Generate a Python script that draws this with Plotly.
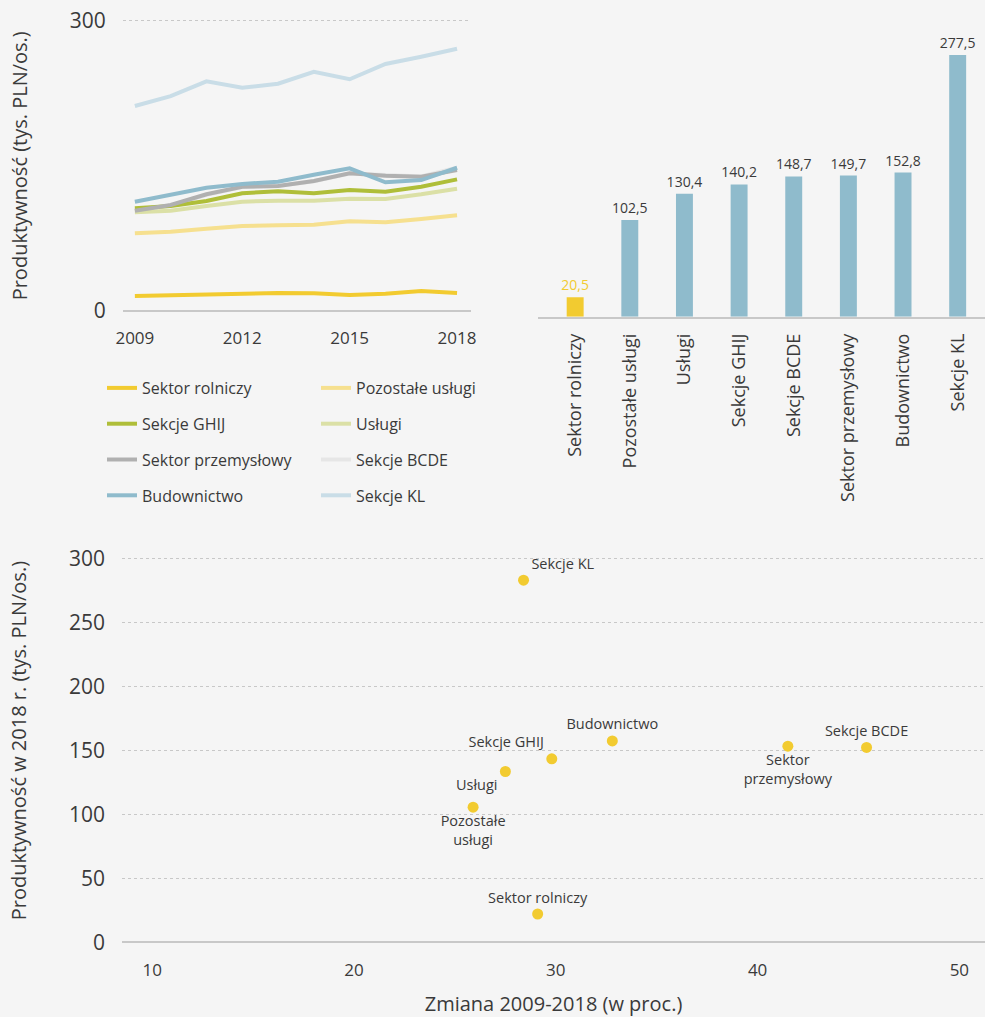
import plotly.graph_objects as go

W, H = 985, 1017
BG = "#f5f5f5"
FONT = "'Open Sans', Lato, sans-serif"
TXT = "#3a3a3a"

# ---- line chart data ----
years = [2009, 2010, 2011, 2012, 2013, 2014, 2015, 2016, 2017, 2018]
sektor_rolniczy = [15.5, 16.2, 17.9, 17.9, 18.6, 18.3, 16.5, 17.9, 20.7, 18.6]
pozostale_uslugi = [80.3, 81.9, 85.0, 87.8, 88.5, 89.2, 92.6, 91.6, 95.0, 98.8]
sekcje_ghij = [106.1, 108.5, 113.6, 121.6, 123.7, 121.6, 125.0, 123.2, 128.4, 136.0]
uslugi = [102.0, 103.6, 108.5, 112.9, 114.0, 114.0, 116.0, 115.7, 120.5, 126.3]
sektor_przem = [103.6, 109.5, 120.6, 128.4, 129.1, 134.3, 142.2, 139.8, 138.7, 145.7]
sekcje_bcde = [103.0, 109.0, 120.0, 128.0, 129.0, 134.0, 142.0, 140.0, 139.0, 148.0]
budownictwo = [112.9, 120.5, 127.4, 131.2, 133.6, 140.8, 147.4, 133.0, 135.3, 148.0]
sekcje_kl = [211.8, 222.0, 237.3, 230.7, 234.8, 247.2, 239.4, 255.2, 262.7, 271.0]

year_ticks = [2009, 2012, 2015, 2018]

# ---- bar chart data ----
bar_cats = ["Sektor rolniczy", "Pozostałe usługi", "Usługi", "Sekcje GHIJ",
            "Sekcje BCDE", "Sektor przemysłowy", "Budownictwo", "Sekcje KL"]
bar_vals = [20.5, 102.5, 130.4, 140.2, 148.7, 149.7, 152.8, 277.5]

# ---- scatter data ----
sc_names = ["Sekcje KL", "Budownictwo", "Sekcje GHIJ", "Usługi", "Pozostałe<br>usługi",
            "Sektor rolniczy", "Sektor<br>przemysłowy", "Sekcje BCDE"]
sc_change = [28.4, 32.8, 29.8, 27.5, 25.9, 29.1, 41.5, 45.4]
sc_prod = [282.8, 157.3, 143.3, 133.4, 105.5, 22.1, 153.2, 152.2]
sc_pos = ["top right", "top center", "top left", "bottom left", "bottom center",
          "top center", "bottom center", "top center"]

YELLOW = "#f2cb30"
BLUE = "#8fbbcc"

series = [
    ("Sekcje BCDE", sekcje_bcde, "#e6e6e6", "legend2"),
    ("Sekcje KL", sekcje_kl, "#c9dde7", "legend2"),
    ("Pozostałe usługi", pozostale_uslugi, "#f6e08f", "legend2"),
    ("Usługi", uslugi, "#dbe0a6", "legend2"),
    ("Sekcje GHIJ", sekcje_ghij, "#afbe39", "legend"),
    ("Sektor przemysłowy", sektor_przem, "#b0b0b0", "legend"),
    ("Budownictwo", budownictwo, BLUE, "legend"),
    ("Sektor rolniczy", sektor_rolniczy, YELLOW, "legend"),
]
legend_rank = {"Sektor rolniczy": 1, "Sekcje GHIJ": 2, "Sektor przemysłowy": 3, "Budownictwo": 4,
               "Pozostałe usługi": 1, "Usługi": 2, "Sekcje BCDE": 3, "Sekcje KL": 4}

fig = go.Figure()
for name, vals, col, lg in series:
    fig.add_trace(go.Scatter(
        x=years, y=vals, mode="lines", name=name,
        line=dict(color=col, width=4),
        legend=lg, legendgroup=name, legendrank=legend_rank[name],
        xaxis="x", yaxis="y", hoverinfo="skip"))

# bar chart
bar_colors = [YELLOW] + [BLUE] * (len(bar_vals) - 1)
bar_text = [f"{v:.1f}".replace(".", ",") for v in bar_vals]
bar_text_colors = [YELLOW] + [TXT] * (len(bar_vals) - 1)
fig.add_trace(go.Bar(
    x=bar_cats, y=bar_vals, marker=dict(color=bar_colors, line=dict(width=0)),
    text=bar_text, textposition="outside", cliponaxis=False, constraintext="none",
    textfont=dict(size=14, color=bar_text_colors, family=FONT),
    width=0.31, showlegend=False, xaxis="x2", yaxis="y2"))

# scatter
fig.add_trace(go.Scatter(
    x=sc_change, y=sc_prod, mode="markers+text", text=sc_names,
    textposition=sc_pos, textfont=dict(size=14.5, color=TXT, family=FONT),
    marker=dict(color=YELLOW, size=11), showlegend=False,
    xaxis="x3", yaxis="y3", cliponaxis=False))

def fy(y_top, y_bot):
    return [(H - y_bot) / H, (H - y_top) / H]

grid = dict(showgrid=True, gridcolor="#c8c8c8", griddash="dot", gridwidth=1)

fig.update_layout(
    width=W, height=H, paper_bgcolor=BG, plot_bgcolor=BG,
    margin=dict(l=0, r=0, t=0, b=0, autoexpand=False),
    font=dict(family=FONT, color=TXT),
    bargap=0.69,
    xaxis=dict(domain=[122.7 / W, 471 / W], range=[2008.66, 2018.39], anchor="y", automargin=False,
               tickvals=year_ticks, ticks="", showgrid=False, zeroline=False,
               tickfont=dict(size=17, color=TXT), ticklabelstandoff=13),
    yaxis=dict(domain=fy(18.7, 312.9), range=[-2, 302], tickvals=[0, 300], anchor="x", automargin=False,
               ticks="", zeroline=True, zerolinecolor="#c8c8c8", zerolinewidth=1.5,
               tickfont=dict(size=21, color=TXT), ticklabelstandoff=16,
               title=dict(text="Produktywność (tys. PLN/os.)", font=dict(size=20, color=TXT), standoff=36),
               **grid),
    xaxis2=dict(domain=[538 / W, 1.0], range=[-0.68, 7.5], showgrid=False, ticks="", anchor="y2",
                automargin=False, showline=True, linecolor="#c8c8c8", linewidth=1.5,
                tickangle=-90, tickfont=dict(size=18, color=TXT), ticklabelstandoff=8),
    yaxis2=dict(domain=fy(33.8, 316.7), range=[0, 300], visible=False, anchor="x2", automargin=False),
    xaxis3=dict(domain=[122 / W, 1.0], range=[8.5, 51.27], tickvals=[10, 20, 30, 40, 50],
                showgrid=False, zeroline=False, ticks="", anchor="y3", automargin=False,
                tickfont=dict(size=17, color=TXT), ticklabelstandoff=16,
                title=dict(text="Zmiana 2009-2018 (w proc.)", font=dict(size=20, color=TXT), standoff=20)),
    yaxis3=dict(domain=fy(539, 942.3), range=[0, 315], tickvals=[0, 50, 100, 150, 200, 250, 300],
                ticks="", zeroline=True, zerolinecolor="#c8c8c8", zerolinewidth=1.5, anchor="x3",
                automargin=False, tickfont=dict(size=21, color=TXT), ticklabelstandoff=16,
                title=dict(text="Produktywność w 2018 r. (tys. PLN/os.)", font=dict(size=20, color=TXT), standoff=36),
                **grid),
    legend=dict(x=102 / W, y=(H - 371) / H, xanchor="left", yanchor="top",
                orientation="v", traceorder="grouped", tracegroupgap=12,
                bgcolor="rgba(0,0,0,0)", font=dict(size=16, color=TXT), itemwidth=30),
    legend2=dict(x=316 / W, y=(H - 371) / H, xanchor="left", yanchor="top",
                 orientation="v", traceorder="grouped", tracegroupgap=12,
                 bgcolor="rgba(0,0,0,0)", font=dict(size=16, color=TXT), itemwidth=30),
)

fig.write_html("out.html", config={"displayModeBar": False},
               post_script="document.body.style.margin='0';")
